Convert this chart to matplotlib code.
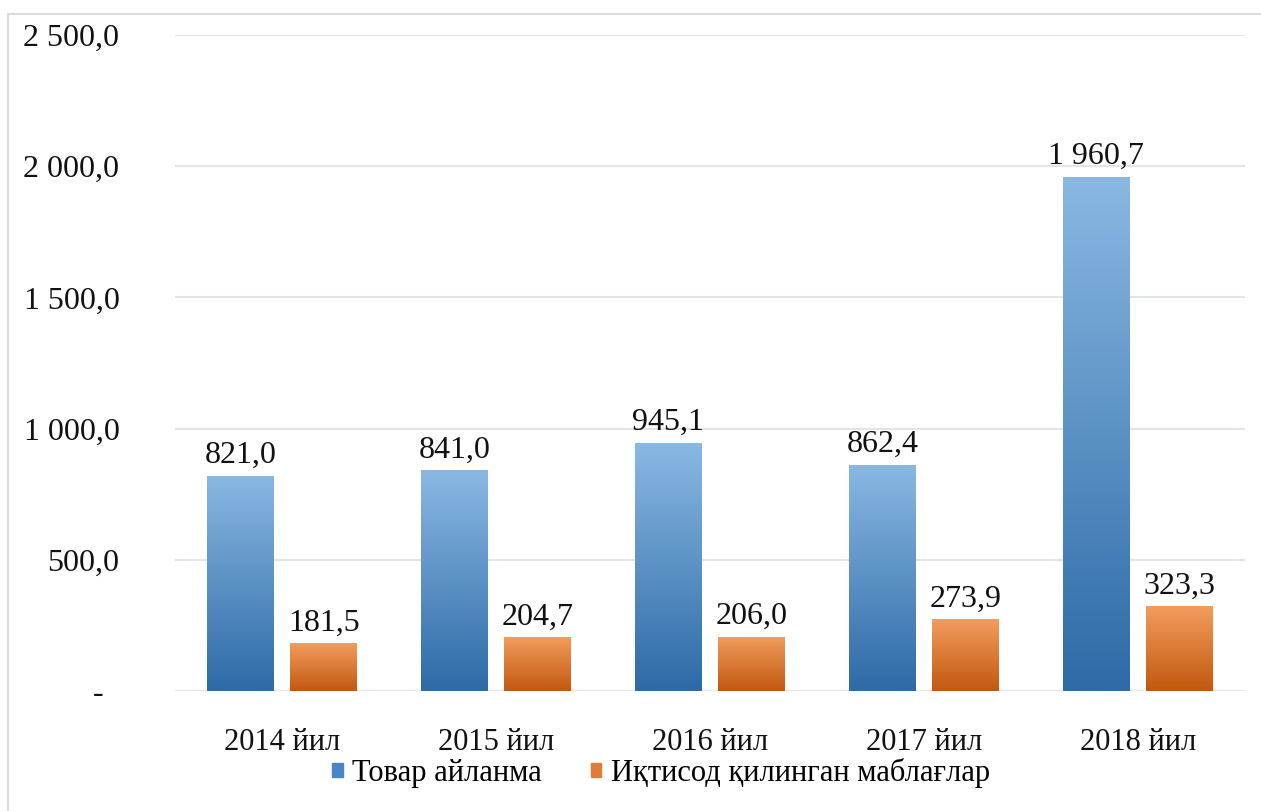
import matplotlib
matplotlib.use("Agg")
import matplotlib.pyplot as plt
import numpy as np
from matplotlib.colors import LinearSegmentedColormap
from matplotlib.patches import Rectangle

categories = ["2014 йил", "2015 йил", "2016 йил", "2017 йил", "2018 йил"]
series_names = ["Товар айланма", "Иқтисод қилинган маблағлар"]
tovar = [821.0, 841.0, 945.1, 862.4, 1960.7]
iqtisod = [181.5, 204.7, 206.0, 273.9, 323.3]
yticks = [0, 500, 1000, 1500, 2000, 2500]

plt.rcParams['font.family'] = ['Liberation Serif', 'DejaVu Serif']

def fmt(v, tick=False):
    if v == 0:
        return "-  " if tick else "-"
    s = f"{v:,.1f}"
    return s.replace(",", " ").replace(".", ",")

fig = plt.figure(figsize=(12.61, 8.11), dpi=100)
ax = fig.add_axes([175/1261, 1-691/811, (1245-175)/1261, (691-35)/811])

x = np.arange(len(categories))
w = 0.313
off = 0.195
blue_cmap = LinearSegmentedColormap.from_list("b", ["#2D6AA6", "#8AB8E3"])
orange_cmap = LinearSegmentedColormap.from_list("o", ["#C2580F", "#F29D5E"])

grad = np.linspace(0, 1, 256).reshape(-1, 1)
for vals, dx, cmap, solid in [(tovar, -off, blue_cmap, "#4A86C5"), (iqtisod, off, orange_cmap, "#E07B39")]:
    bars = ax.bar(x + dx, vals, width=w, color=solid, zorder=2)
    for b, v in zip(bars, vals):
        x0 = b.get_x()
        im = ax.imshow(grad, cmap=cmap, origin="lower", aspect="auto",
                       extent=[x0, x0 + b.get_width(), 0, v], zorder=3)
        im.set_clip_path(b)
        ax.text(b.get_x() + b.get_width()/2, v + 22, fmt(v), ha="center", va="bottom",
                fontsize=23, color="#111111", zorder=4)

ax.set_xlim(-0.5, len(categories) - 0.5)
ax.set_ylim(0, 2500)
ax.set_yticks(yticks)
ax.set_yticklabels([fmt(v, True) for v in yticks], fontsize=23, color="#111111")
ax.set_xticks(x)
ax.set_xticklabels(categories, fontsize=22, color="#111111")
ax.tick_params(axis="y", length=0, pad=40)
ax.tick_params(axis="x", length=0, pad=27)
ax.grid(axis="y", color="#E1E4EA", linewidth=1.5, zorder=0)
ax.set_axisbelow(True)
for s in ax.spines.values():
    s.set_visible(False)

handles = [Rectangle((0, 0), 1, 1, color="#4A86C5"), Rectangle((0, 0), 1, 1, color="#E07B39")]
fig.legend(handles, series_names, loc="center", bbox_to_anchor=(661/1261, 1-773/811),
           ncol=2, frameon=False, fontsize=22, handlelength=0.35, handleheight=0.35,
           handletextpad=0.3, columnspacing=1.6, borderpad=0)

fig.add_artist(Rectangle((8/1261, -0.01), 1.02, 1 - 14/811 + 0.01, transform=fig.transFigure,
                         fill=False, edgecolor="#D9DCE3", linewidth=1.5))

fig.savefig("out.png", dpi=100)
